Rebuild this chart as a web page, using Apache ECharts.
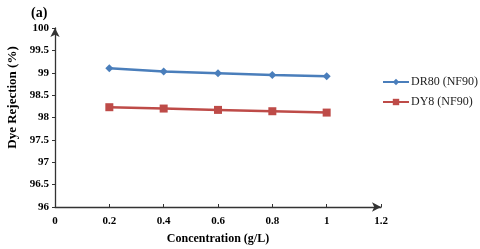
<!DOCTYPE html>
<html><head><meta charset="utf-8">
<script src="https://cdn.jsdelivr.net/npm/echarts@6/dist/echarts.min.js"></script>
<style>html,body{margin:0;padding:0;background:#fff}#c{width:480px;height:249px}</style>
</head><body><div id="c"></div>
<script>
const concentrations = [0.2, 0.4, 0.6, 0.8, 1.0];
const dr80 = [99.10, 99.03, 98.99, 98.95, 98.92];
const dy8 = [98.23, 98.20, 98.17, 98.14, 98.11];
const seriesNames = ['DR80 (NF90)', 'DY8 (NF90)'];
const font = '"Liberation Serif", "Times New Roman", serif';
const chart = echarts.init(document.getElementById('c'));
chart.setOption({
  animation: false,
  backgroundColor: '#fff',
  title: {text: '(a)', left: 26, top: 1, textStyle: {fontFamily: font, fontWeight: 'bold', fontSize: 14, color: '#000'}},
  legend: {
    orient: 'vertical', left: 377, top: 71, itemGap: 8, itemWidth: 26, itemHeight: 8,
    textStyle: {fontFamily: font, fontSize: 12, color: '#222', padding: [0, 0, 0, -3]},
    data: seriesNames
  },
  grid: {left: 55, right: 99, top: 28, bottom: 42, containLabel: false, outerBoundsMode: 'none'},
  xAxis: {
    type: 'value', min: 0, max: 1.2, interval: 0.2,
    name: 'Concentration (g/L)', nameLocation: 'middle', nameGap: 26,
    nameTextStyle: {fontFamily: font, fontWeight: 'bold', fontSize: 12, color: '#000'},
    axisLine: {show: true, symbol: ['none', 'arrow'], symbolSize: [7, 9], lineStyle: {color: '#333', width: 1.3}},
    axisTick: {show: true, inside: true, length: 3, lineStyle: {color: '#333'}},
    axisLabel: {fontFamily: font, fontWeight: 'bold', fontSize: 11, color: '#000', margin: 9, showMaxLabel: true,
      formatter: v => String(Math.round(v * 10) / 10)},
    splitLine: {show: false}
  },
  yAxis: {
    type: 'value', min: 96, max: 100, interval: 0.5,
    name: 'Dye Rejection (%)', nameLocation: 'middle', nameGap: 35,
    nameTextStyle: {fontFamily: font, fontWeight: 'bold', fontSize: 13, color: '#000', padding: [0, 0, 0, 40]},
    axisLine: {show: true, symbol: ['none', 'arrow'], symbolSize: [7, 9], lineStyle: {color: '#333', width: 1.3}},
    axisTick: {show: true, length: 3, lineStyle: {color: '#333'}},
    axisLabel: {fontFamily: font, fontWeight: 'bold', fontSize: 11, color: '#000', margin: 6},
    splitLine: {show: false}
  },
  series: [
    {name: seriesNames[0], type: 'line', data: concentrations.map((c, i) => [c, dr80[i]]),
      symbol: 'diamond', symbolSize: 8, lineStyle: {color: '#4a7ebb', width: 2.5},
      itemStyle: {color: '#4a7ebb'}},
    {name: seriesNames[1], type: 'line', data: concentrations.map((c, i) => [c, dy8[i]]),
      symbol: 'rect', symbolSize: 8, lineStyle: {color: '#be4b48', width: 2.5},
      itemStyle: {color: '#be4b48'}}
  ]
});
</script></body></html>
